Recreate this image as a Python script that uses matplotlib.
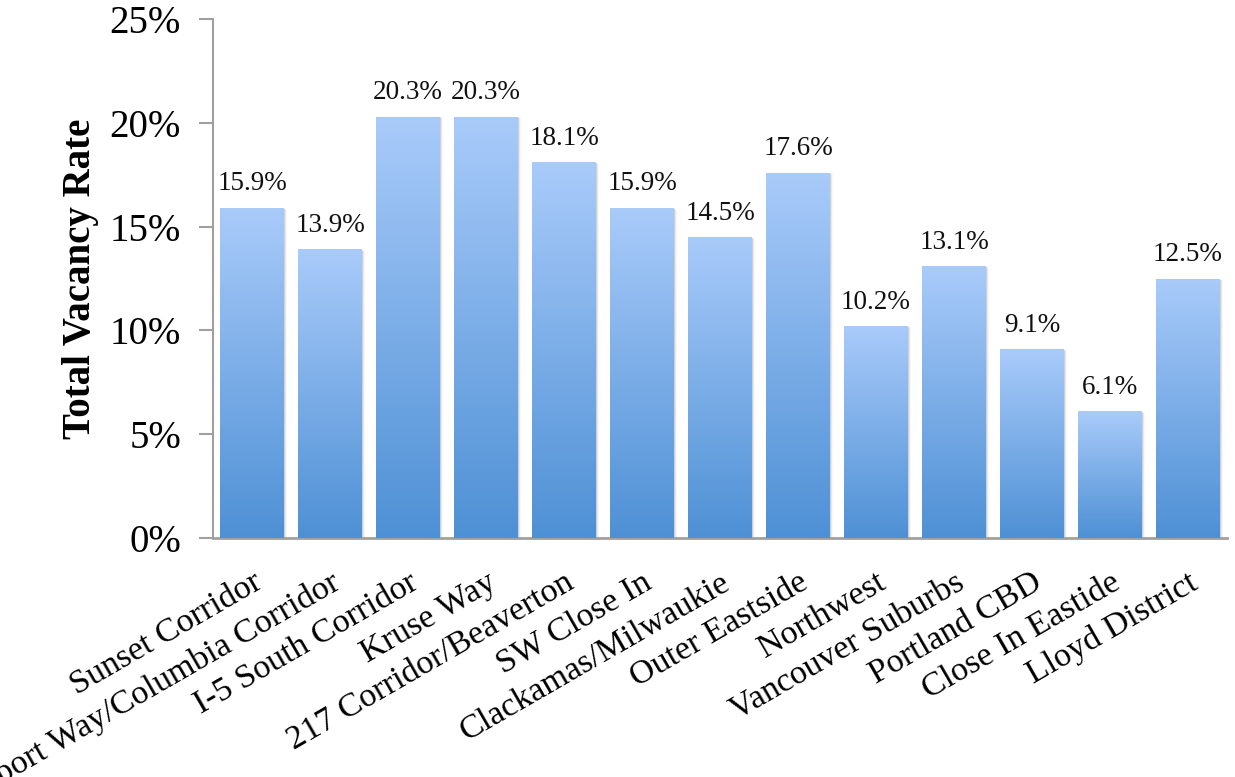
import numpy as np
import matplotlib
matplotlib.use("Agg")
import matplotlib.pyplot as plt
from matplotlib.colors import LinearSegmentedColormap
from matplotlib.patches import Rectangle

categories = [
    "Sunset Corridor", "Airport Way/Columbia Corridor", "I-5 South Corridor",
    "Kruse Way", "217 Corridor/Beaverton", "SW Close In", "Clackamas/Milwaukie",
    "Outer Eastside", "Northwest", "Vancouver Suburbs", "Portland CBD",
    "Close In Eastide", "Lloyd District",
]
vacancy = [15.9, 13.9, 20.3, 20.3, 18.1, 15.9, 14.5, 17.6, 10.2, 13.1, 9.1, 6.1, 12.5]
yticks = [0, 5, 10, 15, 20, 25]
ytick_labels = ["0%", "5%", "10%", "15%", "20%", "25%"]

plt.rcParams["font.family"] = ["Liberation Serif", "DejaVu Serif"]

fig = plt.figure(figsize=(12.35, 7.77), dpi=100)
ax = fig.add_axes([213 / 1235, 1 - 538 / 777, 1014 / 1235, 519 / 777])

x = np.arange(len(categories))
width = 0.82
grad = LinearSegmentedColormap.from_list("barfill", ["#4E90D5", "#A9CBFA"])
g = np.linspace(0, 1, 256).reshape(-1, 1)

bars = ax.bar(x, vacancy, width=width, color="none", edgecolor="none", zorder=3)
for b, v in zip(bars, vacancy):
    bx, bw = b.get_x(), b.get_width()
    # soft drop shadow
    for k, a in enumerate([0.10, 0.06, 0.03]):
        off = 0.012 * (k + 1)
        ax.add_patch(Rectangle((bx + off, 0), bw, v - off * 2.5,
                               facecolor="black", alpha=a, edgecolor="none",
                               zorder=2))
    im = ax.imshow(g, cmap=grad, origin="lower", aspect="auto",
                   extent=(bx, bx + bw, 0, v), zorder=3)
    im.set_clip_path(b)
    ax.text(b.get_x() + bw / 2, v + 0.55, f"{v:.1f}%", ha="center",
            va="bottom", fontsize=19.5, color="#111111", zorder=4)

ax.set_xlim(-0.5, len(categories) - 0.5)
ax.set_ylim(0, 25)
ax.set_yticks(yticks)
ax.set_yticklabels(ytick_labels, fontsize=28)
ax.set_xticks(x)
ax.set_xticklabels(categories, rotation=30, ha="right", va="top",
                   rotation_mode="anchor", fontsize=24.5)
ax.tick_params(axis="x", length=0, pad=21)
ax.tick_params(axis="y", length=10, width=1.5, color="#A0A0A0", pad=13)
ax.set_ylabel("Total Vacancy Rate", fontsize=28, fontweight="bold", labelpad=8)

for side in ["top", "right"]:
    ax.spines[side].set_visible(False)
ax.spines["left"].set_color("#A0A0A0")
ax.spines["left"].set_linewidth(1.5)
ax.spines["bottom"].set_color("#A0A0A0")
ax.spines["bottom"].set_linewidth(2)

fig.savefig("out.png", dpi=100)
